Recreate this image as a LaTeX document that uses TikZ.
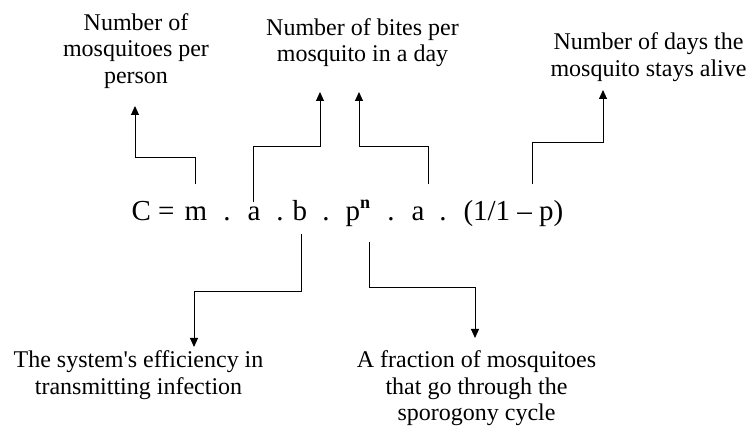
\documentclass[tikz,border=0pt]{standalone}
\usepackage{fontspec}
\setmainfont{Liberation Serif}
\usetikzlibrary{arrows.meta}

\begin{document}
\begin{tikzpicture}[x=1pt,y=1pt,line width=1pt,
  sym/.style={anchor=base west,inner sep=0pt,text height=36pt,text depth=13pt,font=\fontsize{29}{32}\selectfont},
  dot/.style={sym,anchor=base},
  lbl/.style={align=center,inner sep=0pt,font=\fontsize{24}{26.5}\selectfont},
  link/.style={-{Triangle[length=9pt,width=8pt]}}]
\useasboundingbox (0,0) rectangle (747,427);
\node[sym] (lhs) at (131,206) {C =};
\node[sym] (m) at (184,206) {m};
\node[sym] (a1) at (247,206) {a};
\node[sym] (b) at (292,206) {b};
\node[sym] (pn) at (345,206) {p\raisebox{12pt}{\fontsize{18}{18}\selectfont\textbf{n}}};
\node[sym] (a2) at (411,206) {a};
\node[sym] (fr) at (463,206) {(1/1 – p)};
\foreach \x [count=\i] in {227,280,326,391,443}
  \node[dot] (d\i) at (\x,206) {.};
\node[lbl,anchor=south] (perperson) at (136,338) {Number of\\mosquitoes per\\person};
\node[lbl,anchor=south] (bites) at (362.5,359.5) {Number of bites per\\mosquito in a day};
\node[lbl,anchor=south] (alive) at (648.5,345) {Number of days the\\mosquito stays alive};
\node[lbl,anchor=north] (effic) at (138.5,76.4) {The system\textquotesingle s efficiency in\\transmitting infection};
\node[lbl,anchor=north] (sporo) at (476.5,76.4) {A fraction of mosquitoes\\that go through the\\sporogony cycle};
\draw[link] (m.north) -- ++(0,27) -| ([xshift=-1pt,yshift=-17pt]perperson.south);
\draw[link] ([yshift=-18pt]a1.north) -- ++(0,56) -| ([xshift=-42.5pt,yshift=-24.5pt]bites.south);
\draw[link] ([xshift=10.6pt]a2.north) -- ++(0,38) -| ([xshift=-3.5pt,yshift=-24.5pt]bites.south);
\draw[link] ([xshift=19.5pt]fr.north) -- ++(0,42) -| ([xshift=-45.5pt,yshift=-8pt]alive.south);
\draw[link] ([xshift=2pt]b.south) -- ++(0,-57) -| ([xshift=55.5pt,yshift=3.6pt]effic.north);
\draw[link] ([xshift=11.5pt,yshift=-8pt]pn.south) -- ++(0,-45) -| ([xshift=-1.5pt,yshift=12.6pt]sporo.north);
\end{tikzpicture}
\end{document}
